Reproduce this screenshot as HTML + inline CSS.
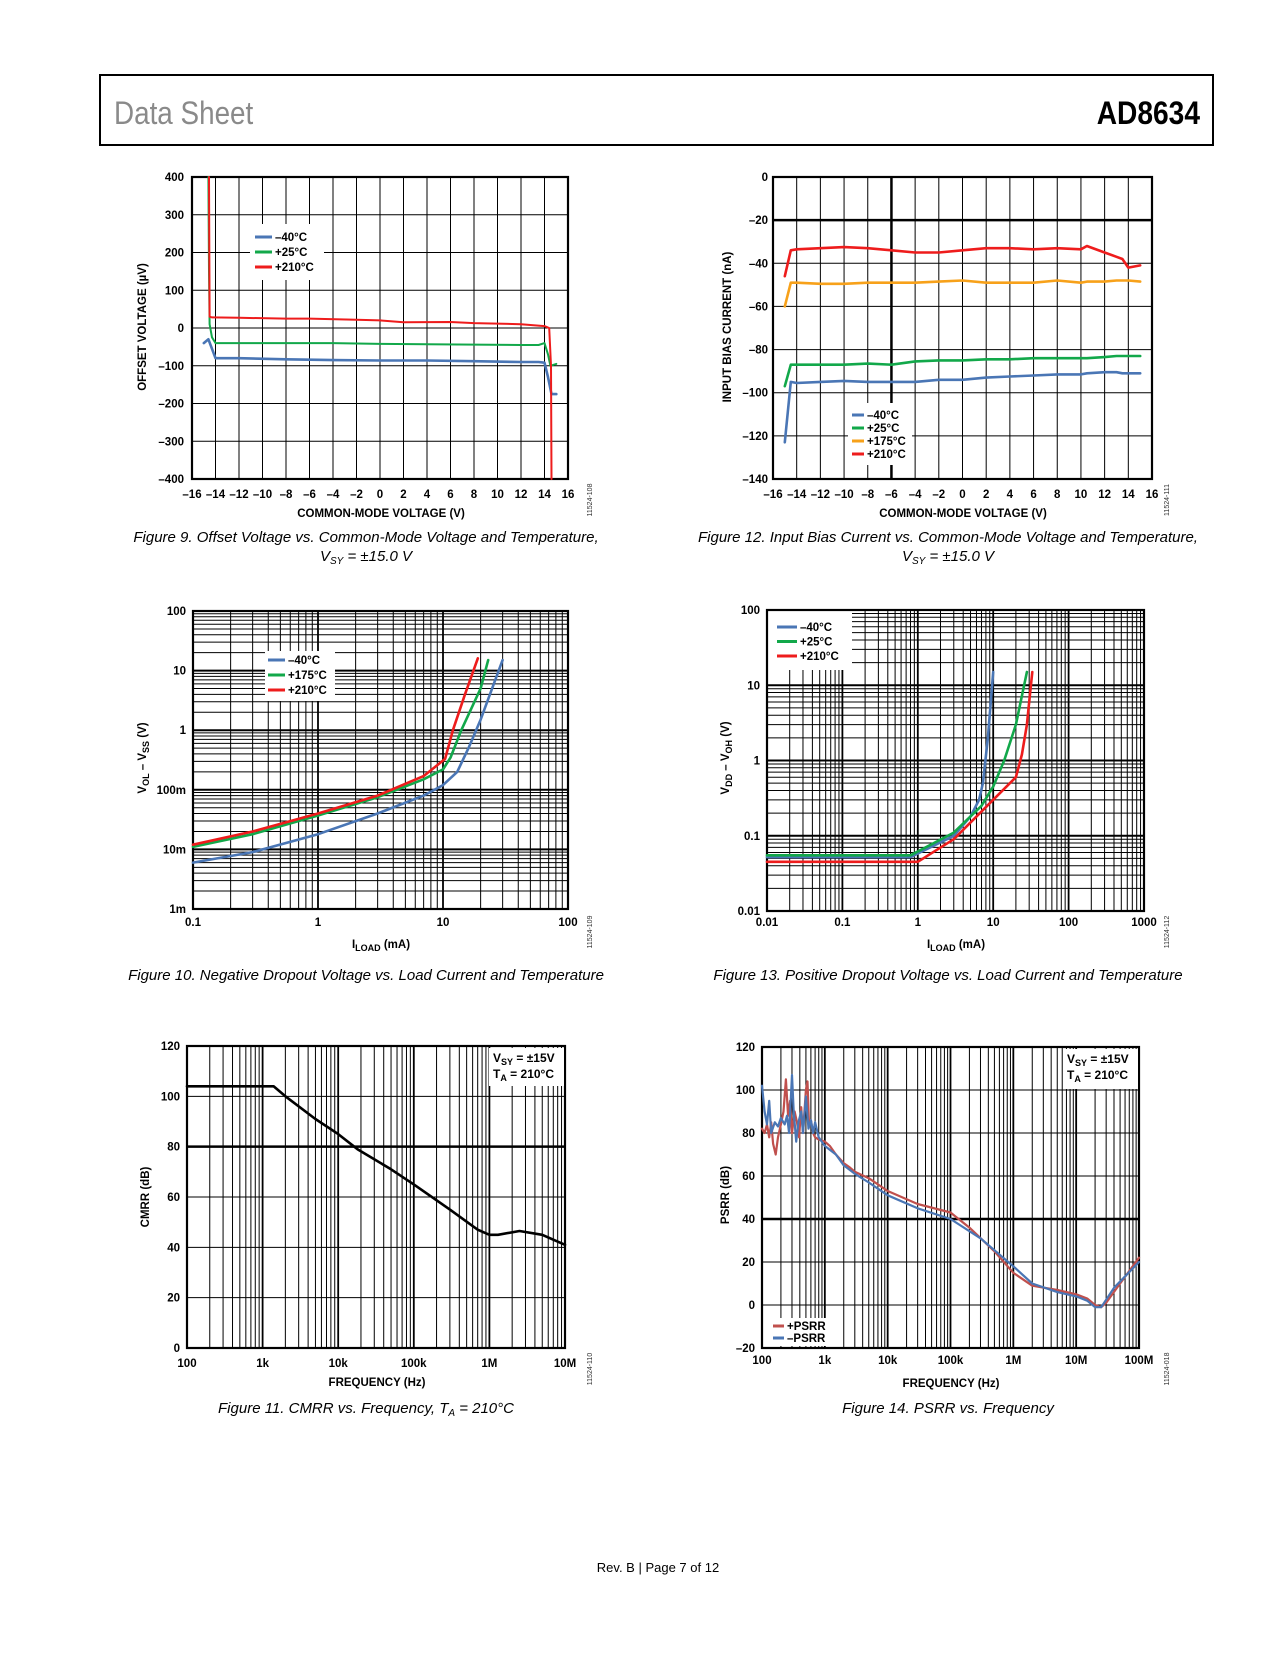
<!DOCTYPE html>
<html><head><meta charset="utf-8">
<style>
html,body{margin:0;padding:0;background:#fff;}
body{width:1275px;height:1650px;position:relative;overflow:hidden;font-family:"Liberation Sans",sans-serif;}
svg text{font-family:"Liberation Sans",sans-serif;}
</style></head>
<body>
<svg id="page" width="1275" height="1650" viewBox="0 0 1275 1650" xmlns="http://www.w3.org/2000/svg">
<rect x="100" y="75" width="1113" height="70" fill="none" stroke="#000" stroke-width="2"/>
<text x="114" y="124" font-size="32" fill="#8a8a8a" transform="translate(114 0) scale(0.87 1) translate(-114 0)">Data Sheet</text>
<text x="1200" y="124" font-size="32" font-weight="bold" text-anchor="end" transform="translate(1200 0) scale(0.88 1) translate(-1200 0)">AD8634</text>
<text x="658" y="1572" font-size="13" text-anchor="middle">Rev. B | Page 7 of 12</text>
</svg>
<script>
// ---------- Figure 9 data ----------
const f9_x_m40 = [-15,-14.6,-14.3,-14,-12,-8,-4,0,4,8,12,13.5,14,14.3,14.6,15];
const f9_y_m40 = [-40,-30,-55,-80,-80,-83,-85,-86,-86,-88,-90,-90,-92,-130,-175,-175];
const f9_x_25 = [-14.6,-14.55,-14.5,-14.3,-14,-12,-8,-4,0,4,8,12,13.5,14,14.3,14.5,15];
const f9_y_25 = [400,150,10,-25,-40,-40,-40,-40,-42,-43,-44,-45,-45,-40,-70,-100,-95];
const f9_x_210 = [-14.55,-14.5,-14.3,-12,-8,-6,-2,0,2,6,8,12,14,14.4,14.55,14.6];
const f9_y_210 = [400,30,28,27,25,25,22,20,15,16,13,10,5,0,-100,-400];
const f9_xticks = [-16,-14,-12,-10,-8,-6,-4,-2,0,2,4,6,8,10,12,14,16];
const f9_yticks = [400,300,200,100,0,-100,-200,-300,-400];
// ---------- Figure 12 data ----------
const f12_x = [-15,-14.5,-14,-12,-10,-8,-6,-4,-2,0,2,4,6,8,10,10.5,12,13,13.5,14,15];
const f12_m40 = [-123,-95,-95.5,-95,-94.5,-95,-95,-95,-94,-94,-93,-92.5,-92,-91.5,-91.5,-91,-90.5,-90.5,-91,-91,-91];
const f12_25 = [-97,-87,-87,-87,-87,-86.5,-87,-85.5,-85,-85,-84.5,-84.5,-84,-84,-84,-84,-83.5,-83,-83,-83,-83];
const f12_175 = [-60,-49,-49,-49.5,-49.5,-49,-49,-49,-48.5,-48,-49,-49,-49,-48,-49,-48.5,-48.5,-48,-48,-48,-48.5];
const f12_210 = [-46,-34,-33.5,-33,-32.5,-33,-34,-35,-35,-34,-33,-33,-33.5,-33,-33.5,-32,-35,-37,-38,-42,-41];
const f12_xticks = [-16,-14,-12,-10,-8,-6,-4,-2,0,2,4,6,8,10,12,14,16];
const f12_yticks = [0,-20,-40,-60,-80,-100,-120,-140];
// ---------- Figure 10 data ----------
const f10_x_m40 = [0.1,0.3,1,3,7,10,13,16,20,30];
const f10_y_m40 = [0.006,0.009,0.018,0.04,0.08,0.12,0.2,0.5,1.5,15];
const f10_x_175 = [0.1,0.3,1,3,7,10,11.5,14,20,23];
const f10_y_175 = [0.011,0.018,0.037,0.075,0.15,0.22,0.35,1,5,15];
const f10_x_210 = [0.1,0.3,1,3,7,10.4,12,15,19];
const f10_y_210 = [0.012,0.02,0.04,0.08,0.17,0.33,1,4,16];
const f10_xticks = ["0.1","1","10","100"];
const f10_yticks = ["1m","10m","100m","1","10","100"];
// ---------- Figure 13 data ----------
const f13_x_m40 = [0.01,0.8,3,5,6.5,7.3,8.5,10];
const f13_y_m40 = [0.052,0.052,0.1,0.18,0.3,0.5,2,15];
const f13_x_25 = [0.01,0.8,3,7,10,14,20,28];
const f13_y_25 = [0.055,0.055,0.11,0.25,0.45,1,3,15];
const f13_x_210 = [0.01,1,3,10,20,24,28,30,33];
const f13_y_210 = [0.045,0.045,0.09,0.3,0.6,1.2,3,6,15];
const f13_xticks = ["0.01","0.1","1","10","100","1000"];
const f13_yticks = ["0.01","0.1","1","10","100"];
// ---------- Figure 11 data ----------
const f11_freq = [100,1400,2000,5000,10000,18000,50000,100000,300000,700000,1000000,1300000,2500000,5000000,10000000];
const f11_cmrr = [104,104,100,91,85,79,71,65,55,47,45,45,46.5,45,41];
const f11_xticks = ["100","1k","10k","100k","1M","10M"];
const f11_yticks = [0,20,40,60,80,100,120];
// ---------- Figure 14 data ----------
const f14_f_pos = [100,110,120,130,140,150,165,180,200,220,240,260,280,300,330,360,390,420,450,500,530,560,600,650,700,800,1000,1200,1500,2000,2500,3000,5000,10000,30000,100000,200000,500000,1000000,2000000,5000000,10000000,15000000,20000000,25000000,30000000,50000000,100000000];
const f14_pos = [82,80,84,78,85,75,70,78,84,90,105,88,95,80,90,85,78,92,80,100,104,84,86,80,78,77,76,74,70,66,64,62,59,53,47,43,36,25,15,9,7,5,3,0,-1,1,10,22];
const f14_f_neg = [100,110,120,130,140,160,180,200,230,250,270,300,320,350,380,420,450,500,550,600,650,700,800,1000,1500,2000,3000,5000,10000,30000,100000,300000,1000000,2000000,5000000,10000000,15000000,20000000,25000000,40000000,100000000];
const f14_neg = [102,90,84,95,80,85,83,87,84,88,80,107,90,76,85,90,80,97,82,86,80,85,78,74,70,65,61,57,51,45,40,31,18,10,6,4,2,-1,-1,8,20];
const f14_xticks = ["100","1k","10k","100k","1M","10M","100M"];
const f14_yticks = [-20,0,20,40,60,80,100,120];

const NS = "http://www.w3.org/2000/svg";
const svg = document.getElementById("page");
function mk(parent, tag, attrs, name, text) {
  const el = document.createElementNS(NS, tag);
  for (const k in attrs) el.setAttribute(k, attrs[k]);
  
  
  if (text !== undefined) el.textContent = text;
  parent.appendChild(el);
  return el;
}
function lin(v, v0, v1, p0, p1) { return p0 + (v - v0) / (v1 - v0) * (p1 - p0); }
function lg(v, v0, v1, p0, p1) { return p0 + (Math.log10(v) - Math.log10(v0)) / (Math.log10(v1) - Math.log10(v0)) * (p1 - p0); }

function chart(c) {
  const g = mk(svg, "g", {}, c.name);
  const X = v => (c.xlog ? lg : lin)(v, c.xmin, c.xmax, c.L, c.R);
  const Y = v => (c.ylog ? lg : lin)(v, c.ymin, c.ymax, c.B, c.T);
  const grid = mk(g, "g", {stroke: "#000", fill: "none"}, "grid");
  if (c.xlog) {
    for (let d = Math.log10(c.xmin); d < Math.log10(c.xmax) - 1e-9; d++) {
      for (let m = 1; m <= 9; m++) {
        const v = Math.pow(10, d) * m;
        const x = X(v);
        mk(grid, "line", {x1: x, x2: x, y1: c.T, y2: c.B, "stroke-width": m === 1 ? 1.8 : 1}, "x-gridline");
      }
    }
  } else {
    for (let v = c.xmin; v <= c.xmax + 1e-9; v += c.xstep) {
      const x = X(v);
      mk(grid, "line", {x1: x, x2: x, y1: c.T, y2: c.B, "stroke-width": (c.xbold === v) ? 2.5 : 1}, "x-gridline");
    }
  }
  if (c.ylog) {
    for (let d = Math.log10(c.ymin); d < Math.log10(c.ymax) - 1e-9; d++) {
      for (let m = 1; m <= 9; m++) {
        const v = Math.pow(10, d) * m;
        const y = Y(v);
        mk(grid, "line", {x1: c.L, x2: c.R, y1: y, y2: y, "stroke-width": m === 1 ? 2 : 1}, "y-gridline");
      }
    }
  } else {
    for (let v = c.ymin; v <= c.ymax + 1e-9; v += c.ystep) {
      const y = Y(v);
      mk(grid, "line", {x1: c.L, x2: c.R, y1: y, y2: y, "stroke-width": (c.ybold === v) ? 2.5 : 1}, "y-gridline");
    }
  }
  if (c.legendBox) {
    const b = c.legendBox;
    mk(g, "rect", {x: b[0], y: b[1], width: b[2], height: b[3], fill: "#fff"}, "legend-background");
  }
  mk(g, "rect", {x: c.L, y: c.T, width: c.R - c.L, height: c.B - c.T, fill: "none", stroke: "#000", "stroke-width": 2.2}, "plot-frame");
  c.series.forEach(s => {
    let d = "";
    for (let i = 0; i < s.xs.length; i++) {
      d += (i ? "L" : "M") + X(s.xs[i]).toFixed(1) + " " + Y(s.ys[i]).toFixed(1);
    }
    mk(g, "path", {d: d, fill: "none", stroke: s.color, "stroke-width": s.w || 2.6, "stroke-linejoin": "round", "stroke-linecap": "round"}, s.name);
  });
  const tg = mk(g, "g", {"font-size": 11.5, "font-weight": "bold"}, "tick-labels");
  c.xticks.forEach((t, i) => {
    const v = c.xlog ? c.xmin * Math.pow(10, i) : t;
    const lab = typeof t === "number" ? (t < 0 ? "\u2013" + (-t) : "" + t) : t;
    mk(tg, "text", {x: X(v), y: c.xtickY, "text-anchor": "middle"}, "x-tick-label", lab);
  });
  c.yticks.forEach((t, i) => {
    const v = c.ylog ? c.ymin * Math.pow(10, i) : t;
    const lab = typeof t === "number" ? (t < 0 ? "\u2013" + (-t) : "" + t) : t;
    mk(tg, "text", {x: c.ytickX, y: Y(v) + 4, "text-anchor": "end"}, "y-tick-label", lab);
  });
  mk(g, "text", {x: c.xtitle[1], y: c.xtitle[2], "text-anchor": "middle", "font-size": 11.5, "font-weight": "bold"}, "x-axis-title").innerHTML = c.xtitle[0];
  mk(g, "text", {x: 0, y: 0, "text-anchor": "middle", "font-size": 11.5, "font-weight": "bold", transform: "translate(" + c.ytitle[1] + " " + c.ytitle[2] + ") rotate(-90)"}, "y-axis-title").innerHTML = c.ytitle[0];
  if (c.legend) {
    c.legend.items.forEach((it, i) => {
      const y = c.legend.y + i * c.legend.dy;
      mk(g, "line", {x1: c.legend.x, x2: c.legend.x + c.legend.len, y1: y, y2: y, stroke: it[1], "stroke-width": 3}, "legend-swatch");
      mk(g, "text", {x: c.legend.x + c.legend.len + 3, y: y + 4, "font-size": 11.5, "font-weight": "bold"}, "legend-entry", it[0]);
    });
  }
  mk(g, "text", {x: 0, y: 0, "font-size": 7, fill: "#333", "text-anchor": "middle", transform: "translate(" + c.fid[1] + " " + c.fid[2] + ") rotate(-90)"}, "figure-id", c.fid[0]);
  c.caption.forEach((ln, i) => {
    mk(g, "text", {x: c.capX, y: c.capY + i * 19, "text-anchor": "middle", "font-size": 15, "font-style": "italic"}, "figure-caption").innerHTML = ln;
  });
  if (c.note) {
    mk(g, "rect", {x: c.note.box[0], y: c.note.box[1], width: c.note.box[2], height: c.note.box[3], fill: "#fff"}, "condition-box");
    c.note.lines.forEach((ln, i) => {
      mk(g, "text", {x: c.note.x, y: c.note.y + i * 16, "font-size": 12, "font-weight": "bold"}, "condition-note").innerHTML = ln;
    });
  }
  return g;
}
const BLUE = "#4a76b5", GREEN = "#12a84a", RED = "#ee1c1c", ORANGE = "#f7a11a";

chart({name: "figure-9-chart", L: 192, R: 568, T: 177, B: 479, xmin: -16, xmax: 16, ymin: -400, ymax: 400, xstep: 2, ystep: 100,
  xticks: f9_xticks, yticks: f9_yticks, xtickY: 498, ytickX: 184,
  xtitle: ["COMMON-MODE VOLTAGE (V)", 381, 517], ytitle: ["OFFSET VOLTAGE (µV)", 146, 327],
  legendBox: [250, 224, 74, 56],
  legend: {x: 255, y: 237, dy: 15, len: 17, items: [["\u201340°C", BLUE], ["+25°C", GREEN], ["+210°C", RED]]},
  series: [{name: "series-minus40c", xs: f9_x_m40, ys: f9_y_m40, color: BLUE},
           {name: "series-25c", xs: f9_x_25, ys: f9_y_25, color: GREEN, w: 2},
           {name: "series-210c", xs: f9_x_210, ys: f9_y_210, color: RED, w: 2}],
  fid: ["11524-108", 592, 500],
  caption: ["Figure 9. Offset Voltage vs. Common-Mode Voltage and Temperature,", "V<tspan font-size='10' dy='3'>SY</tspan><tspan dy='-3'> = ±15.0 V</tspan>"], capX: 366, capY: 542});

chart({name: "figure-12-chart", L: 773, R: 1152, T: 177, B: 479, xmin: -16, xmax: 16, ymin: -140, ymax: 0, xstep: 2, ystep: 20, xbold: -6, ybold: -20,
  xticks: f12_xticks, yticks: f12_yticks, xtickY: 498, ytickX: 768,
  xtitle: ["COMMON-MODE VOLTAGE (V)", 963, 517], ytitle: ["INPUT BIAS CURRENT (nA)", 731, 327],
  legendBox: [848, 403, 64, 62],
  legend: {x: 852, y: 415, dy: 13, len: 12, items: [["\u201340°C", BLUE], ["+25°C", GREEN], ["+175°C", ORANGE], ["+210°C", RED]]},
  series: [{name: "series-minus40c", xs: f12_x, ys: f12_m40, color: BLUE},
           {name: "series-25c", xs: f12_x, ys: f12_25, color: GREEN},
           {name: "series-175c", xs: f12_x, ys: f12_175, color: ORANGE},
           {name: "series-210c", xs: f12_x, ys: f12_210, color: RED}],
  fid: ["11524-111", 1169, 500],
  caption: ["Figure 12. Input Bias Current vs. Common-Mode Voltage and Temperature,", "V<tspan font-size='10' dy='3'>SY</tspan><tspan dy='-3'> = ±15.0 V</tspan>"], capX: 948, capY: 542});

chart({name: "figure-10-chart", L: 193, R: 568, T: 611, B: 909, xlog: true, ylog: true, xmin: 0.1, xmax: 100, ymin: 0.001, ymax: 100,
  xticks: f10_xticks, yticks: f10_yticks, xtickY: 926, ytickX: 186,
  xtitle: ["I<tspan font-size='9' dy='3'>LOAD</tspan><tspan dy='-3'> (mA)</tspan>", 381, 948], ytitle: ["V<tspan font-size='9' dy='3'>OL</tspan><tspan dy='-3'> – V</tspan><tspan font-size='9' dy='3'>SS</tspan><tspan dy='-3'> (V)</tspan>", 146, 758],
  legendBox: [265, 651, 70, 50],
  legend: {x: 268, y: 660, dy: 15, len: 17, items: [["\u201340°C", BLUE], ["+175°C", GREEN], ["+210°C", RED]]},
  series: [{name: "series-minus40c", xs: f10_x_m40, ys: f10_y_m40, color: BLUE},
           {name: "series-175c", xs: f10_x_175, ys: f10_y_175, color: GREEN},
           {name: "series-210c", xs: f10_x_210, ys: f10_y_210, color: RED}],
  fid: ["11524-109", 592, 932],
  caption: ["Figure 10. Negative Dropout Voltage vs. Load Current and Temperature"], capX: 366, capY: 980});

chart({name: "figure-13-chart", L: 767, R: 1144, T: 610, B: 911, xlog: true, ylog: true, xmin: 0.01, xmax: 1000, ymin: 0.01, ymax: 100,
  xticks: f13_xticks, yticks: f13_yticks, xtickY: 926, ytickX: 760,
  xtitle: ["I<tspan font-size='9' dy='3'>LOAD</tspan><tspan dy='-3'> (mA)</tspan>", 956, 948], ytitle: ["V<tspan font-size='9' dy='3'>DD</tspan><tspan dy='-3'> – V</tspan><tspan font-size='9' dy='3'>OH</tspan><tspan dy='-3'> (V)</tspan>", 729, 758],
  legendBox: [768, 611, 84, 59],
  legend: {x: 777, y: 627, dy: 14.5, len: 20, items: [["\u201340°C", BLUE], ["+25°C", GREEN], ["+210°C", RED]]},
  series: [{name: "series-minus40c", xs: f13_x_m40, ys: f13_y_m40, color: BLUE},
           {name: "series-25c", xs: f13_x_25, ys: f13_y_25, color: GREEN},
           {name: "series-210c", xs: f13_x_210, ys: f13_y_210, color: RED}],
  fid: ["11524-112", 1169, 932],
  caption: ["Figure 13. Positive Dropout Voltage vs. Load Current and Temperature"], capX: 948, capY: 980});

chart({name: "figure-11-chart", L: 187, R: 565, T: 1046, B: 1348, xlog: true, xmin: 100, xmax: 1e7, ymin: 0, ymax: 120, ystep: 20, ybold: 80,
  xticks: f11_xticks, yticks: f11_yticks, xtickY: 1367, ytickX: 180,
  xtitle: ["FREQUENCY (Hz)", 377, 1386], ytitle: ["CMRR (dB)", 149, 1197],
  series: [{name: "series-cmrr", xs: f11_freq, ys: f11_cmrr, color: "#000", w: 2.6}],
  note: {box: [489, 1048, 75, 38], x: 493, y: 1062, lines: ["V<tspan font-size='9' dy='3'>SY</tspan><tspan dy='-3'> = ±15V</tspan>", "T<tspan font-size='9' dy='3'>A</tspan><tspan dy='-3'> = 210°C</tspan>"]},
  fid: ["11524-110", 592, 1369],
  caption: ["Figure 11. CMRR vs. Frequency, T<tspan font-size='10' dy='3'>A</tspan><tspan dy='-3'> = 210°C</tspan>"], capX: 366, capY: 1413});

chart({name: "figure-14-chart", L: 762, R: 1139, T: 1047, B: 1348, xlog: true, xmin: 100, xmax: 1e8, ymin: -20, ymax: 120, ystep: 20, ybold: 40,
  xticks: f14_xticks, yticks: f14_yticks, xtickY: 1364, ytickX: 755,
  xtitle: ["FREQUENCY (Hz)", 951, 1387], ytitle: ["PSRR (dB)", 729, 1195],
  legendBox: [770, 1318, 60, 28],
  legend: {x: 773, y: 1326, dy: 12, len: 11, items: [["+PSRR", "#c0504d"], ["\u2013PSRR", BLUE]]},
  series: [{name: "series-plus-psrr", xs: f14_f_pos, ys: f14_pos, color: "#c0504d", w: 2.2},
           {name: "series-minus-psrr", xs: f14_f_neg, ys: f14_neg, color: BLUE, w: 2.2}],
  note: {box: [1063, 1049, 75, 40], x: 1067, y: 1063, lines: ["V<tspan font-size='9' dy='3'>SY</tspan><tspan dy='-3'> = ±15V</tspan>", "T<tspan font-size='9' dy='3'>A</tspan><tspan dy='-3'> = 210°C</tspan>"]},
  fid: ["11524-018", 1169, 1369],
  caption: ["Figure 14. PSRR vs. Frequency"], capX: 948, capY: 1413});
</script>
</body></html>
